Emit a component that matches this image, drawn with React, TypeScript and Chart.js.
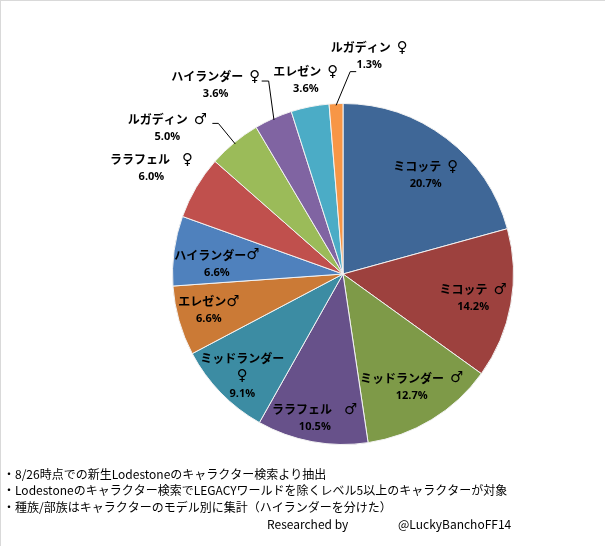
import React, { useEffect, useRef } from "react";
import { Chart, registerables } from "chart.js";

Chart.register(...registerables);

const categories = [
  "ミコッテ\u2002♀",
  "ミコッテ\u2002♂",
  "ミッドランダー\u2002♂",
  "ララフェル\u3000♂",
  "ミッドランダー\n♀",
  "エレゼン♂",
  "ハイランダー♂",
  "ララフェル\u3000♀",
  "ルガディン\u2002♂",
  "ハイランダー\u2002♀",
  "エレゼン\u2002♀",
  "ルガディン\u2002♀",
];

const shares = [20.7, 14.2, 12.7, 10.5, 9.1, 6.6, 6.6, 6.0, 5.0, 3.6, 3.6, 1.3];

const sliceColors = [
  "#3F6797",
  "#9D413E",
  "#7E9A48",
  "#67518A",
  "#3C8CA3",
  "#CB7A36",
  "#4F81BD",
  "#C0504D",
  "#9BBB59",
  "#8064A2",
  "#4BACC6",
  "#F79646",
];

// label layout: [angle delta from slice middle (deg), radius fraction]
const labelPlacement: [number, number][] = [
  [2.6, 0.756],
  [0.3, 0.776],
  [0, 0.775],
  [0.6, 0.862],
  [-1.1, 0.84],
  [0.8, 0.815],
  [-3.2, 0.742],
  [-1.6, 1.284],
  [-10.6, 1.34],
  [-9.9, 1.334],
  [0.3, 1.157],
  [9.2, 1.287],
];

// leader line: [elbow dx, elbow dy, end dx] relative to label centre
const leaders: ([number, number, number] | null)[] = [
  null, null, null, null, null, null, null, null,
  [51, -5, 45],
  [53, -5, 46],
  null,
  [-19, 15, -13],
];

const notes = [
  "・8/26時点での新生Lodestoneのキャラクター検索より抽出",
  "・Lodestoneのキャラクター検索でLEGACYワールドを除くレベル5以上のキャラクターが対象",
  "・種族/部族はキャラクターのモデル別に集計（ハイランダーを分けた）",
];
const credit = ["Researched by", "@LuckyBanchoFF14"];

const TEXT_FONT = 'bold 12px "Noto Sans CJK JP", sans-serif';
const SYM_FONT = 'bold 15px "DejaVu Sans", sans-serif';

function drawMixed(ctx: CanvasRenderingContext2D, text: string, cx: number, cy: number) {
  const segs: { t: string; sym: boolean }[] = [];
  for (const ch of text) {
    const sym = ch === "♀" || ch === "♂";
    const last = segs[segs.length - 1];
    if (last && last.sym === sym) last.t += ch;
    else segs.push({ t: ch, sym });
  }
  let total = 0;
  const widths = segs.map((s) => {
    ctx.font = s.sym ? SYM_FONT : TEXT_FONT;
    const w = ctx.measureText(s.t).width;
    total += w;
    return w;
  });
  let x = cx - total / 2;
  ctx.textAlign = "left";
  segs.forEach((s, k) => {
    ctx.font = s.sym ? SYM_FONT : TEXT_FONT;
    ctx.fillText(s.t, x, cy + (s.sym ? 0.5 : 0));
    x += widths[k];
  });
}

const labelPlugin = {
  id: "sliceLabels",
  afterDatasetsDraw(chart: any) {
    const ctx = chart.ctx as CanvasRenderingContext2D;
    const meta = chart.getDatasetMeta(0);
    ctx.save();
    meta.data.forEach((arc: any, i: number) => {
      const { x, y, startAngle, endAngle, outerRadius } = arc.getProps(
        ["x", "y", "startAngle", "endAngle", "outerRadius"],
        true
      );
      const mid = (startAngle + endAngle) / 2;
      const [dAng, rf] = labelPlacement[i];
      const a = mid + (dAng * Math.PI) / 180;
      const lx = x + Math.cos(a) * outerRadius * rf;
      const ly = y + Math.sin(a) * outerRadius * rf;
      const lines = categories[i].split("\n");
      const pct = shares[i].toFixed(1) + "%";
      const n = lines.length + 1;
      const lh = 17.5;
      const top = ly - ((n - 1) * lh) / 2;
      ctx.fillStyle = "#000";
      ctx.textBaseline = "middle";
      lines.forEach((t, k) => drawMixed(ctx, t, lx, top + k * lh));
      ctx.font = 'bold 11px "Open Sans", sans-serif';
      ctx.textAlign = "center";
      ctx.fillText(pct, lx, top + lines.length * lh);
      const ld = leaders[i];
      if (ld) {
        const ex = x + Math.cos(mid) * outerRadius * 0.99;
        const ey = y + Math.sin(mid) * outerRadius * 0.99;
        ctx.strokeStyle = "#000";
        ctx.lineWidth = 1;
        ctx.beginPath();
        ctx.moveTo(ex, ey);
        ctx.lineTo(lx + ld[0], ly + ld[1] + 0.5);
        ctx.lineTo(lx + ld[2], ly + ld[1] + 0.5);
        ctx.stroke();
      }
    });
    ctx.restore();
  },
  afterDraw(chart: any) {
    const ctx = chart.ctx as CanvasRenderingContext2D;
    ctx.save();
    ctx.fillStyle = "#D9D9D9";
    ctx.fillRect(0, 0, chart.width, 1);
    ctx.fillRect(0, 0, 1, chart.height);
    ctx.fillStyle = "#000";
    ctx.textAlign = "left";
    ctx.textBaseline = "middle";
    ctx.font = '12px "Noto Sans CJK JP", sans-serif';
    notes.forEach((t, k) => ctx.fillText(t, 3, 474 + k * 16.7));
    ctx.fillText(credit[0], 267, 524);
    ctx.fillText(credit[1], 398, 524);
    ctx.restore();
  },
};

export default function App() {
  const ref = useRef<HTMLCanvasElement>(null);
  useEffect(() => {
    document.body.style.margin = "0";
    const chart = new Chart(ref.current!, {
      type: "pie",
      data: {
        labels: categories,
        datasets: [
          {
            data: shares,
            backgroundColor: sliceColors,
            borderColor: "#F2F2F2",
            borderWidth: 1,
          },
        ],
      },
      options: {
        responsive: false,
        animation: false,
        layout: { padding: { left: 172, right: 91, top: 103, bottom: 101 } },
        plugins: {
          legend: { display: false },
          tooltip: { enabled: false },
        },
      },
      plugins: [labelPlugin],
    });
    return () => chart.destroy();
  }, []);
  return (
    <div style={{ width: 605, height: 546, background: "#fff" }}>
      <canvas ref={ref} width={605} height={546} />
    </div>
  );
}
